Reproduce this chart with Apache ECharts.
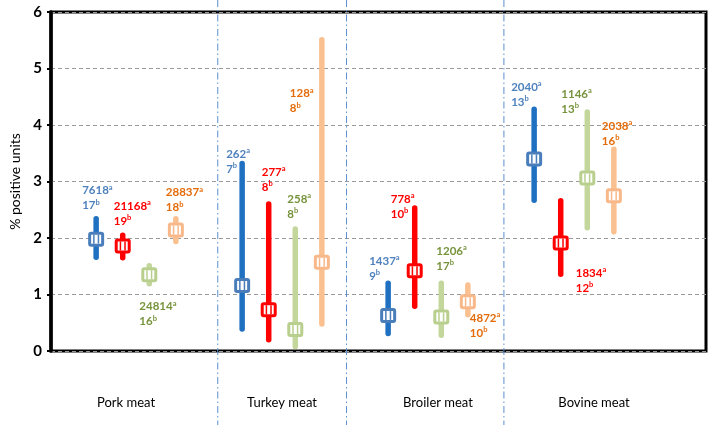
<!DOCTYPE html>
<html>
<head>
<meta charset="utf-8">
<script src="https://cdn.jsdelivr.net/npm/echarts@6/dist/echarts.min.js"></script>
<style>html,body{margin:0;padding:0;background:#fff}#c{width:709px;height:425px}</style>
</head>
<body>
<div id="c"></div>
<script>
// ---- data ----
const categories = ['Pork meat', 'Turkey meat', 'Broiler meat', 'Bovine meat'];
const yTicks = [0, 1, 2, 3, 4, 5, 6];

const blueMid = [1.98, 1.16, 0.63, 3.40];
const blueLow = [1.66, 0.39, 0.31, 2.67];
const blueHigh = [2.34, 3.32, 1.20, 4.28];
const blueA = [7618, 262, 1437, 2040];
const blueB = [17, 7, 9, 13];

const redMid = [1.86, 0.73, 1.42, 1.91];
const redLow = [1.65, 0.20, 0.79, 1.36];
const redHigh = [2.05, 2.60, 2.53, 2.66];
const redA = [21168, 277, 778, 1834];
const redB = [19, 8, 10, 12];

const greenMid = [1.35, 0.38, 0.60, 3.06];
const greenLow = [1.19, 0.08, 0.28, 2.18];
const greenHigh = [1.51, 2.16, 1.20, 4.23];
const greenA = [24814, 258, 1206, 1146];
const greenB = [16, 8, 17, 13];

const orangeMid = [2.14, 1.57, 0.87, 2.75];
const orangeLow = [1.94, 0.48, 0.64, 2.11];
const orangeHigh = [2.34, 5.51, 1.17, 3.57];
const orangeA = [28837, 128, 4872, 2038];
const orangeB = [18, 8, 10, 16];

// separators between groups (group index + fraction of band past its centre)
const separators = [0.56, 1.442, 2.52];

// ---- styles / layout ----
const FONT = 'Lato, "Open Sans", sans-serif';
const SLOT = 0.182; // spacing between series within a group, as fraction of band
const seriesDefs = [
  {name: 'blue', mid: blueMid, low: blueLow, high: blueHigh, a: blueA, b: blueB,
   line: '#1f70c0', box: '#4a7ebb', text: '#4f81bd'},
  {name: 'red', mid: redMid, low: redLow, high: redHigh, a: redA, b: redB,
   line: '#ff0000', box: '#ff0000', text: '#ff0000'},
  {name: 'green', mid: greenMid, low: greenLow, high: greenHigh, a: greenA, b: greenB,
   line: '#c3d69b', box: '#b9cf8e', text: '#77933c'},
  {name: 'orange', mid: orangeMid, low: orangeLow, high: orangeHigh, a: orangeA, b: orangeB,
   line: '#fac090', box: '#f8b889', text: '#e46c0a'}
];
// label placement: [dx, dy, ref] ref 'hi' = top of bar, 'lo' = bottom of bar (dy = first line centre)
const labelPlace = [
  [[-14, -28, 'hi'], [-16, -9, 'hi'], [-19, -22, 'hi'], [-23, -22, 'hi']],
  [[-9, -29, 'hi'], [-7, -32, 'hi'], [-24, -9, 'hi'], [15, -1, 'lo']],
  [[-10, 23, 'lo'], [-8, -30, 'hi'], [-5, -32, 'hi'], [-26, -18, 'hi']],
  [[-10, -26, 'hi'], [-32, 54, 'hi'], [2, 3, 'lo'], [-12, -23, 'hi']]
];

function makeRender(sIdx) {
  const d = seriesDefs[sIdx];
  return function (params, api) {
    const g = api.value(0);
    const band = api.size([1, 0])[0];
    const off = (sIdx - 1.5) * SLOT * band;
    const pm = api.coord([g, api.value(1)]);
    const pl = api.coord([g, api.value(2)]);
    const ph = api.coord([g, api.value(3)]);
    const x = pm[0] + off, y = pm[1];
    const i = params.dataIndex;
    const lp = labelPlace[sIdx][i];
    const refY = lp[2] === 'hi' ? ph[1] : pl[1];
    return {
      type: 'group',
      children: [
        {type: 'line', shape: {x1: x, y1: ph[1], x2: x, y2: pl[1]},
         style: {stroke: d.line, lineWidth: 5.5, lineCap: 'round'}},
        {type: 'rect', shape: {x: x - 6.5, y: y - 6, width: 13, height: 12, r: 1.5},
         style: {fill: '#fff', stroke: d.box, lineWidth: 3}},
        {type: 'line', shape: {x1: x - 2.3, y1: y - 4.5, x2: x - 2.3, y2: y + 4.5},
         style: {stroke: d.box, lineWidth: 1.5}},
        {type: 'line', shape: {x1: x + 2.3, y1: y - 4.5, x2: x + 2.3, y2: y + 4.5},
         style: {stroke: d.box, lineWidth: 1.5}},
        {type: 'text', x: x + lp[0], y: refY + lp[1] - 7.5,
         style: {
           text: '{n|' + d.a[i] + '}{s|a}\n{n|' + d.b[i] + '}{s|b}',
           align: 'left', verticalAlign: 'top', fill: d.text,
           rich: {
             n: {fontSize: 11.5, fontWeight: 'bold', fontFamily: FONT, lineHeight: 15, fill: d.text, verticalAlign: 'middle'},
             s: {fontSize: 7.5, fontWeight: 'bold', fontFamily: FONT, lineHeight: 9, fill: d.text, verticalAlign: 'top'}
           }
         }}
      ]
    };
  };
}

const series = [];
series.push({
  type: 'custom', xAxisIndex: 2, yAxisIndex: 2, z: 1, silent: true, clip: false,
  data: separators.map(s => [Math.floor(s), 0, s - Math.floor(s)]),
  renderItem: function (params, api) {
    const p = api.coord([api.value(0), 0]);
    const band = api.size([1, 0])[0];
    const x = p[0] + api.value(2) * band;
    return {type: 'line', shape: {x1: x, y1: 0, x2: x, y2: api.getHeight()},
      style: {stroke: '#5b8fd0', lineWidth: 1, lineDash: [7, 3, 1.5, 3]}};
  }
});
seriesDefs.forEach((d, sIdx) => {
  series.push({
    type: 'custom', name: d.name, xAxisIndex: 2, yAxisIndex: 2, z: 3, silent: true, clip: false,
    data: categories.map((c, i) => [i, d.mid[i], d.low[i], d.high[i]]),
    encode: {x: 0, y: [1, 2, 3]},
    renderItem: makeRender(sIdx)
  });
});

const chart = echarts.init(document.getElementById('c'), null, {renderer: 'canvas'});
chart.setOption({
  animation: false,
  backgroundColor: '#fff',
  grid: [
    {left: 42, right: 3, top: 12, bottom: 74, show: true, borderColor: '#000', borderWidth: 3, backgroundColor: 'transparent'},
    {left: 48, right: 37, top: 12, bottom: 74, show: false},
    {left: 63, right: 62, top: 12, bottom: 74, show: false}
  ],
  xAxis: [
    {type: 'value', gridIndex: 0, min: 0, max: 1, show: false, splitLine: {show: false}},
    {type: 'category', gridIndex: 1, data: categories, boundaryGap: true,
     axisLine: {show: false}, axisTick: {show: false},
     axisLabel: {margin: 45, fontSize: 13, color: '#000', fontFamily: FONT}},
    {type: 'category', gridIndex: 2, data: categories, boundaryGap: true, show: false}
  ],
  yAxis: [
    {type: 'value', gridIndex: 0, min: yTicks[0], max: yTicks[yTicks.length - 1], interval: 1,
     name: '% positive units', nameLocation: 'middle', nameGap: 29, nameRotate: 90,
     nameTextStyle: {fontSize: 14, color: '#000', fontFamily: FONT},
     axisLine: {show: true, onZero: false, lineStyle: {color: '#000', width: 3.5}},
     axisTick: {show: true, length: 4, lineStyle: {color: '#000', width: 2}},
     axisLabel: {fontSize: 15, fontWeight: 'bold', color: '#000', fontFamily: FONT, margin: 9},
     splitLine: {show: true, lineStyle: {color: '#9a9a9a', type: [4, 3], width: 1}}},
    {type: 'value', gridIndex: 1, show: false, splitLine: {show: false}},
    {type: 'value', gridIndex: 2, min: yTicks[0], max: yTicks[yTicks.length - 1], interval: 1, show: false, splitLine: {show: false}}
  ],
  series: series
});
</script>
</body>
</html>
